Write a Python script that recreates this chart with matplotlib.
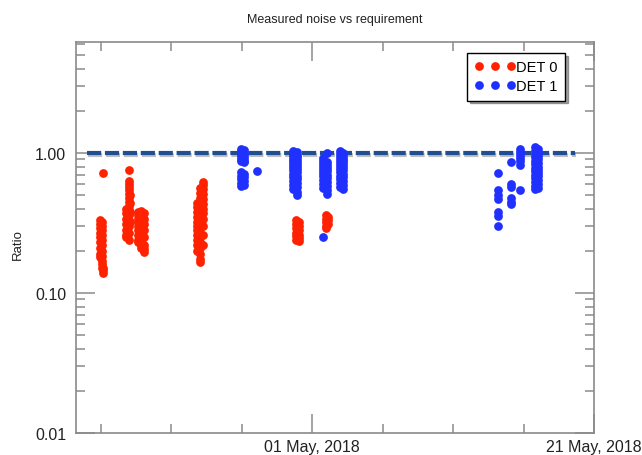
import numpy as np
import pandas as pd
import matplotlib
matplotlib.use("Agg")
import matplotlib.pyplot as plt
import matplotlib.dates as mdates
import matplotlib.ticker as mticker
import matplotlib.patheffects as pe

plt.rcParams['font.family'] = ['Liberation Sans', 'DejaVu Sans']

# DET 0 (red): one time stamp per column of points, and the ratios in that column
det0_times = [
    "2018-04-15 23:00", "2018-04-16 03:00", "2018-04-16 05:00",
    "2018-04-17 20:00", "2018-04-18 00:00", "2018-04-18 03:00",
    "2018-04-18 15:00", "2018-04-18 21:00", "2018-04-19 02:00",
    "2018-04-22 21:00", "2018-04-23 02:00", "2018-04-23 06:00",
    "2018-04-29 20:00", "2018-04-30 01:00",
    "2018-05-01 23:00", "2018-05-02 03:00",
]
det0_columns = [
    [0.33, 0.31, 0.29, 0.27, 0.25, 0.23, 0.21, 0.19, 0.18],
    [0.32, 0.30, 0.28, 0.26, 0.24, 0.22, 0.20, 0.185, 0.17, 0.16, 0.15],
    [0.72, 0.15, 0.145, 0.14],
    [0.40, 0.37, 0.34, 0.31, 0.28, 0.26, 0.25],
    [0.76, 0.63, 0.60, 0.57, 0.54, 0.51, 0.48, 0.45, 0.42, 0.39, 0.36, 0.33, 0.30, 0.27, 0.24],
    [0.50, 0.44, 0.38, 0.32],
    [0.38, 0.36, 0.34, 0.32, 0.30, 0.28, 0.26, 0.24, 0.23],
    [0.385, 0.37, 0.35, 0.33, 0.31, 0.29, 0.27, 0.25, 0.23, 0.22, 0.21],
    [0.37, 0.34, 0.31, 0.28, 0.25, 0.22, 0.205, 0.196],
    [0.44, 0.41, 0.38, 0.35, 0.32, 0.30, 0.28, 0.26, 0.24, 0.22, 0.20],
    [0.56, 0.52, 0.48, 0.45, 0.42, 0.39, 0.36, 0.33, 0.31, 0.29, 0.27, 0.25, 0.23, 0.21, 0.19, 0.175, 0.167],
    [0.62, 0.59, 0.55, 0.51, 0.47, 0.43, 0.40, 0.37, 0.34, 0.30, 0.26, 0.22],
    [0.33, 0.31, 0.29, 0.27, 0.255, 0.24],
    [0.32, 0.30, 0.28, 0.26, 0.245, 0.235],
    [0.36, 0.34, 0.32, 0.30, 0.29],
    [0.35, 0.33, 0.31],
]

# DET 1 (blue)
det1_times = [
    "2018-04-25 23:00", "2018-04-26 04:00", "2018-04-27 02:00",
    "2018-04-29 16:00", "2018-04-29 22:00",
    "2018-05-01 19:00", "2018-05-02 01:00",
    "2018-05-02 23:00", "2018-05-03 04:00",
    "2018-05-14 05:00", "2018-05-15 03:00", "2018-05-15 18:00",
    "2018-05-16 20:00", "2018-05-17 00:00",
]
det1_columns = [
    [1.07, 1.03, 0.99, 0.95, 0.91, 0.87, 0.73, 0.69, 0.65, 0.61, 0.58],
    [1.05, 1.00, 0.96, 0.92, 0.88, 0.86, 0.71, 0.67, 0.63, 0.59],
    [0.74],
    [1.03, 0.99, 0.95, 0.91, 0.87, 0.83, 0.79, 0.75, 0.71, 0.67, 0.63, 0.59, 0.55],
    [1.01, 0.97, 0.93, 0.89, 0.85, 0.81, 0.77, 0.73, 0.69, 0.65, 0.61, 0.57, 0.53, 0.50],
    [0.92, 0.88, 0.84, 0.80, 0.76, 0.72, 0.68, 0.64, 0.60, 0.56, 0.25],
    [1.00, 0.86, 0.82, 0.78, 0.74, 0.70, 0.66, 0.62, 0.58, 0.54, 0.51],
    [1.03, 0.98, 0.93, 0.89, 0.85, 0.81, 0.77, 0.73, 0.69, 0.65, 0.61, 0.57],
    [1.00, 0.95, 0.91, 0.87, 0.83, 0.79, 0.75, 0.71, 0.67, 0.63, 0.59, 0.55],
    [0.72, 0.54, 0.50, 0.47, 0.38, 0.355, 0.30],
    [0.86, 0.60, 0.57, 0.48, 0.45, 0.43],
    [1.07, 1.02, 0.97, 0.92, 0.87, 0.82, 0.54],
    [1.10, 1.04, 0.98, 0.93, 0.88, 0.83, 0.78, 0.74, 0.70, 0.66, 0.62, 0.58, 0.55],
    [1.06, 1.00, 0.95, 0.90, 0.85, 0.80, 0.76, 0.72, 0.68, 0.64, 0.60, 0.56],
]

# requirement line
req_dates = ["2018-04-15 01:00", "2018-05-19 15:00"]
req_ratio = [1.0, 1.0]

major_dates = ["2018-05-01", "2018-05-21"]
minor_dates = ["2018-04-16", "2018-04-21", "2018-04-26", "2018-05-06", "2018-05-11", "2018-05-16"]
x_range = ["2018-04-14 06:15", "2018-05-21 00:00"]


def expand(times, columns):
    t = [pd.Timestamp(tm) for tm, col in zip(times, columns) for _ in col]
    v = [val for col in columns for val in col]
    return t, v


det0_t, det0_v = expand(det0_times, det0_columns)
det1_t, det1_v = expand(det1_times, det1_columns)

red = "#ff2200"
blue = "#2030ff"
grey = "#8a8a8a"

fig = plt.figure(figsize=(6.42, 4.56), dpi=100)
ax = fig.add_axes([76 / 642, 22 / 456, 518 / 642, 391 / 456])

ax.plot(pd.to_datetime(req_dates), req_ratio, color="#1f4f90", lw=3, dashes=(3.4, 0.9),
        path_effects=[pe.SimpleLineShadow(offset=(0.8, -1.8), shadow_color="k", alpha=0.25), pe.Normal()],
        zorder=2)
ax.plot(det0_t, det0_v, ls="none", marker="o", ms=6.3, mew=0, color=red, label="DET 0", zorder=3)
ax.plot(det1_t, det1_v, ls="none", marker="o", ms=6.3, mew=0, color=blue, label="DET 1", zorder=3)

ax.set_yscale("log")
ax.set_ylim(0.01, 6.2)
ax.set_xlim(pd.to_datetime(x_range))
ax.yaxis.set_major_locator(mticker.FixedLocator([0.01, 0.1, 1.0]))
ax.yaxis.set_major_formatter(mticker.FormatStrFormatter("%.2f"))
ax.yaxis.set_minor_locator(mticker.LogLocator(subs=np.arange(2, 10)))
ax.yaxis.set_minor_formatter(mticker.NullFormatter())

ax.xaxis.set_major_locator(mticker.FixedLocator(mdates.date2num(pd.to_datetime(major_dates))))
ax.xaxis.set_minor_locator(mticker.FixedLocator(mdates.date2num(pd.to_datetime(minor_dates))))
ax.xaxis.set_major_formatter(mdates.DateFormatter("%d %b, %Y"))

for s in ax.spines.values():
    s.set_color(grey)
    s.set_linewidth(1.2)
ax.tick_params(which="both", direction="in", top=True, right=True, color=grey, width=1.1,
               labelsize=11.5, labelcolor="#222222")
ax.tick_params(which="major", length=13.5)
ax.tick_params(which="minor", length=6.8)
ax.tick_params(axis="y", pad=7)
ax.tick_params(axis="x", pad=4)

leg = ax.legend(loc="upper right", bbox_to_anchor=(0.944, 0.972), borderaxespad=0,
                numpoints=3, handlelength=2.8, handletextpad=0.05, fontsize=10.5,
                frameon=True, fancybox=False, shadow=True, framealpha=1,
                borderpad=0.5, labelspacing=0.35)
leg.get_frame().set_edgecolor("black")
leg.get_frame().set_linewidth(1.0)

fig.text(335 / 642, 1 - 20 / 456, "Measured noise vs requirement", ha="center", va="center",
         fontsize=9, color="#222222")
fig.text(18 / 642, 1 - 245 / 456, "Ratio", ha="center", va="center", rotation=90,
         fontsize=9.5, color="#222222")

fig.savefig("out.png", dpi=100)
